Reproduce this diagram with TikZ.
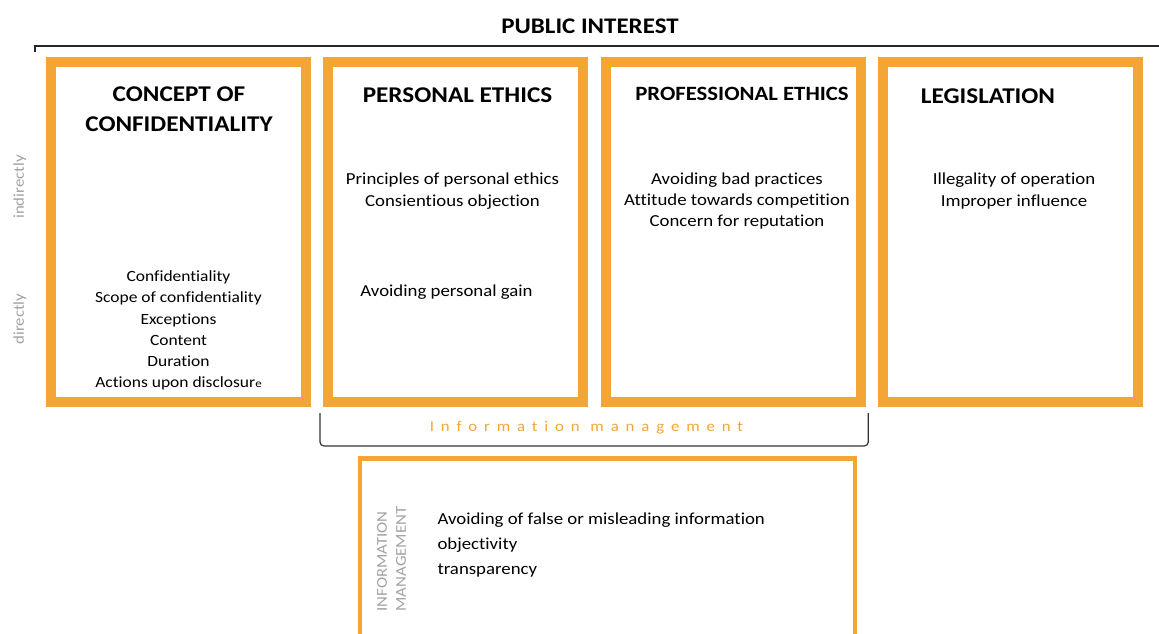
\documentclass[tikz,border=0pt]{standalone}
\usepackage{fontspec}
\setmainfont{Carlito}[FakeStretch=1.12,Ligatures=NoCommon]
\usetikzlibrary{positioning}
\definecolor{amber}{HTML}{F3A536}
\definecolor{sidegray}{HTML}{A2A2A2}
\begin{document}
\begin{tikzpicture}[x=1pt,y=-1pt,
  panel/.style={draw=amber,line width=10pt,minimum width=255pt,minimum height=339.7pt,inner sep=0pt},
  head/.style={font=\fontsize{22.5}{30}\selectfont\bfseries,align=center,inner sep=0pt},
  items/.style={font=\fontsize{16.8}{21.3}\selectfont,align=center,inner sep=0pt},
  side/.style={font=\fontsize{15}{19}\selectfont,text=sidegray,rotate=90,inner sep=0pt}]
\clip (0,0) rectangle (1159,634);
% top bracket
\node[font=\fontsize{22.3}{24}\selectfont\bfseries,anchor=base] (pub) at (590,33.3) {PUBLIC INTEREST};
\coordinate (pubL) at (35,52);
\coordinate (pubR) at (1159,46);
\draw[line width=1.2pt,black!85] (pubL) |- (pubR);
% the four panels
\node[panel] (conc) at (178.85,231.85) {};
\node[panel] (pers) at (455.65,231.85) {};
\node[panel] (prof) at (733.5,231.85) {};
\node[panel] (legi) at (1010.65,231.85) {};
\node[head,anchor=base] (concT) at (179,131.7) {CONCEPT OF\\CONFIDENTIALITY};
\node[head,anchor=base] (persT) at (457.5,102.7) {PERSONAL ETHICS};
\node[head,anchor=base,font=\fontsize{20.3}{26}\selectfont\bfseries] (profT) at (742,100) {PROFESSIONAL ETHICS};
\node[head,anchor=base] (legiT) at (988,103.3) {LEGISLATION};
\node[items,font=\fontsize{15.6}{21.2}\selectfont] (concL) at (178.5,330.5) {Confidentiality\\Scope of confidentiality\\Exceptions\\Content\\Duration\\Actions upon disclosur{\fontsize{11.5}{12}\selectfont e}};
\node[items] (persL) at (452.5,191) {Principles of personal ethics\\Consientious objection};
\node[items,anchor=base] (persG) at (446.5,296.7) {Avoiding personal gain};
\node[items] (profL) at (737,201) {Avoiding bad practices\\Attitude towards competition\\Concern for reputation};
\node[items] (legiL) at (1014,191) {Illegality of operation\\Improper influence};
% direct / indirect
\node[side] (ind) at (20,187) {indirectly};
\node[side] (dir) at (20,319) {directly};
% information management bracket
\coordinate (imL) at (320,413);
\coordinate (imR) at (868.3,413);
\draw[line width=1.2pt,black!80,rounded corners=4pt] (imL) -- (320,446) -- (868.3,446) -- (imR);
\node[font=\fontsize{15}{15}\selectfont\addfontfeatures{LetterSpace=46},text=amber] (imT) at (586.5,428) {Information management};
% lower panel
\node[draw=amber,line width=4.5pt,minimum width=495.2pt,minimum height=200pt,inner sep=0pt] (info) at (607.4,558.7) {};
\node[side,align=left] (infoS) at (391.5,559) {INFORMATION\\MANAGEMENT};
\node[items,align=left,anchor=west,font=\fontsize{16.8}{25}\selectfont] (infoL) at (437.3,545) {Avoiding of false or misleading information\\objectivity\\transparency};
\end{tikzpicture}
\end{document}
